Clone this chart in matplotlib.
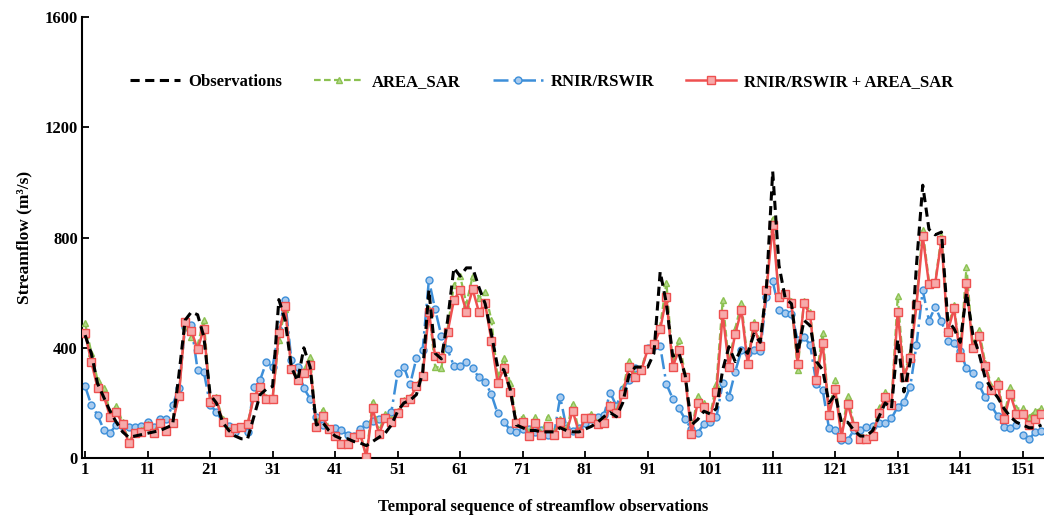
import numpy as np
import matplotlib
matplotlib.use('Agg')
from matplotlib import pyplot as plt

plt.rcParams['font.family'] = ['Liberation Serif', 'DejaVu Serif']
plt.rcParams['font.weight'] = 'bold'

# observed streamflow (m3/s), steps 1..154
obs = [446, 380, 270, 220, 170, 130, 95, 75, 80, 85, 90, 95, 100, 110, 120, 300, 500, 530, 520, 440,
       230, 200, 130, 100, 80, 70, 70, 150, 230, 250, 260, 575, 500, 330, 280, 400, 330, 120, 130, 100,
       80, 70, 70, 60, 55, 45, 60, 75, 90, 120, 170, 200, 210, 230, 310, 610, 380, 360, 500, 690,
       660, 690, 690, 620, 560, 450, 330, 320, 250, 120, 110, 100, 100, 95, 95, 95, 110, 100, 95, 95,
       105, 115, 130, 150, 165, 150, 200, 300, 330, 330, 330, 380, 676, 560, 370, 380, 300, 120, 140, 170,
       160, 180, 320, 404, 350, 400, 380, 450, 420, 620, 1040, 700, 580, 560, 380, 500, 480, 350, 320, 200,
       230, 130, 130, 100, 80, 80, 100, 150, 200, 180, 430, 240, 350, 700, 990, 830, 810, 820, 500, 470,
       420, 600, 450, 380, 290, 250, 220, 180, 150, 130, 120, 110, 110, 120]

area_sar = [490, 382, 283, 254, 165, 189, 130, 60, 95, 100, 125, 95, 130, 100, 130, 230, 480, 440, 410, 500,
            215, 220, 140, 100, 110, 115, 125, 225, 262, 220, 220, 430, 540, 330, 290, 320, 365, 120, 176, 110,
            85, 55, 55, 80, 90, 8, 205, 95, 160, 140, 170, 210, 220, 265, 300, 540, 331, 327, 470, 627,
            660, 560, 660, 580, 603, 500, 290, 362, 271, 135, 150, 90, 150, 90, 150, 90, 140, 100, 196, 100,
            150, 160, 130, 135, 195, 170, 245, 353, 300, 325, 400, 420, 480, 636, 345, 430, 300, 95, 225, 200,
            155, 270, 573, 340, 470, 561, 350, 495, 415, 620, 869, 590, 600, 570, 320, 570, 530, 295, 454, 165,
            283, 80, 225, 120, 75, 75, 85, 180, 240, 200, 588, 300, 380, 570, 826, 640, 640, 805, 470, 555,
            380, 694, 410, 465, 345, 260, 283, 150, 258, 180, 180, 150, 170, 180]

rnir = [261, 192, 156, 102, 92, 120, 116, 114, 114, 117, 132, 114, 141, 140, 192, 253, 476, 482, 319, 313,
        192, 168, 132, 116, 96, 114, 96, 259, 283, 349, 331, 464, 573, 355, 331, 253, 216, 150, 120, 104,
        110, 100, 85, 80, 105, 122, 135, 140, 150, 168, 309, 331, 268, 362, 392, 646, 539, 443, 394, 334,
        334, 349, 325, 293, 277, 231, 162, 132, 102, 96, 104, 104, 96, 100, 83, 83, 222, 110, 99, 110,
        128, 140, 150, 156, 237, 189, 250, 283, 325, 318, 401, 406, 406, 268, 216, 180, 141, 105, 92, 123,
        132, 150, 271, 222, 313, 392, 380, 392, 390, 585, 643, 537, 527, 522, 428, 440, 410, 268, 247, 108,
        102, 65, 65, 102, 102, 111, 116, 126, 126, 144, 186, 204, 259, 410, 609, 498, 549, 498, 425, 416,
        389, 325, 307, 265, 220, 189, 152, 114, 108, 120, 83, 68, 95, 99]

combined = [453, 349, 254, 225, 150, 168, 122, 53, 92, 95, 116, 90, 127, 98, 128, 225, 494, 462, 394, 470,
            204, 213, 132, 96, 108, 114, 122, 222, 259, 216, 216, 455, 551, 322, 283, 309, 337, 114, 152, 104,
            80, 50, 50, 77, 87, 5, 182, 87, 144, 132, 164, 204, 216, 261, 297, 531, 370, 362, 458, 573,
            609, 531, 612, 530, 561, 426, 273, 325, 238, 128, 132, 81, 126, 83, 116, 83, 132, 92, 172, 92,
            144, 144, 122, 126, 189, 162, 232, 331, 293, 319, 394, 413, 467, 583, 331, 392, 293, 87, 201, 186,
            148, 241, 522, 331, 450, 537, 341, 479, 406, 609, 845, 583, 597, 561, 343, 561, 519, 285, 418, 156,
            249, 77, 196, 116, 68, 68, 80, 162, 220, 192, 531, 293, 362, 555, 805, 631, 634, 791, 458, 543,
            367, 636, 398, 443, 334, 247, 265, 140, 232, 160, 160, 120, 140, 160]

x = np.arange(1, len(obs) + 1)

fig = plt.figure(figsize=(10.44, 5.17), dpi=100)
ax = fig.add_axes([0.0785, 0.114, 0.9215, 0.853])

ax.plot(x, obs, color='black', ls=(0, (3, 1.8)), lw=2.2, zorder=5, label='Observations')
ax.plot(x, area_sar, color='#8CC152', ls=(0, (3, 1.5)), lw=1.6, marker='^', ms=5,
        mfc='#B5DA8C', mec='#8CC152', mew=1, zorder=3, label='AREA_SAR')
ax.plot(x, rnir, color='#3D8FD9', ls=(0, (6, 2, 1, 2)), lw=1.8, marker='o', ms=5,
        mfc='#A9CBEE', mec='#3D8FD9', mew=1, zorder=2, label='RNIR/RSWIR')
ax.plot(x, combined, color='#EE5050', ls='-', lw=1.8, marker='s', ms=5.5,
        mfc='#F6AAAA', mec='#EE5050', mew=1, zorder=4, label='RNIR/RSWIR + AREA_SAR')

ax.set_xlim(0.5, 154.4)
ax.set_ylim(0, 1600)
ax.set_xticks(np.arange(1, 152, 10))
ax.set_yticks([0, 400, 800, 1200, 1600])
ax.tick_params(direction='in', length=5, width=1.3, labelsize=12, pad=3)
for lab in ax.get_xticklabels() + ax.get_yticklabels():
    lab.set_fontweight('bold')

for s in ['top', 'right']:
    ax.spines[s].set_visible(False)
for s in ['left', 'bottom']:
    ax.spines[s].set_linewidth(1.5)

ax.set_xlabel('Temporal sequence of streamflow observations', fontsize=12, fontweight='bold')
ax.set_ylabel('Streamflow (m³/s)', fontsize=12.5, fontweight='bold')
ax.xaxis.set_label_coords(0.479, -0.093)
ax.yaxis.set_label_coords(-0.052, 0.5)

ax.legend(loc='center', bbox_to_anchor=(0.478, 0.853), ncol=4, frameon=False,
          handlelength=3, columnspacing=1.9, handletextpad=0.5,
          prop={'weight': 'bold', 'size': 12})

plt.savefig('out.png', dpi=100)
